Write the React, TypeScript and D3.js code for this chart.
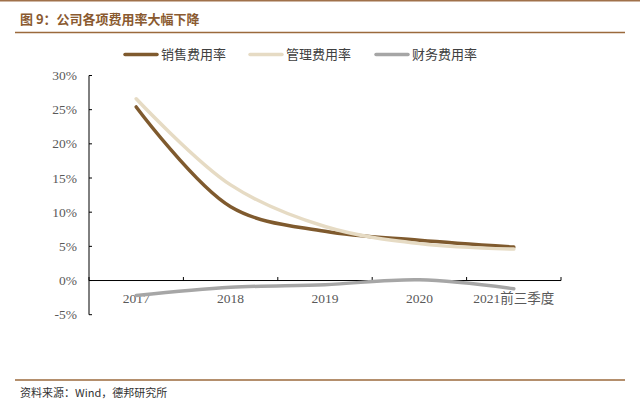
import { useMemo } from 'react';
import * as d3 from 'd3';

const categories = ['2017', '2018', '2019', '2020', '2021前三季度'];
const salesRate = [25.4, 10.8, 7.2, 5.9, 4.9];
const adminRate = [26.6, 14.0, 7.9, 5.4, 4.6];
const financeRate = [-2.2, -1.0, -0.6, 0.1, -1.2];
const yTicks = [-5, 0, 5, 10, 15, 20, 25, 30];

const seriesNames = ['销售费用率', '管理费用率', '财务费用率'];
const seriesColors = ['#7f5a2e', '#e6dbc4', '#a6a6a6'];

const W = 640;
const H = 407;
const CJK = '"Noto Sans CJK SC", sans-serif';
const SERIF = '"Liberation Serif", "Times New Roman", serif';

export default function App() {
  const x = useMemo(() => d3.scaleBand<string>().domain(categories).range([89, 561]), []);
  const y = useMemo(() => d3.scaleLinear().domain([-5, 30]).range([314.7, 75.5]), []);

  const line = d3
    .line<number>()
    .x((_d, i) => (x(categories[i]) ?? 0) + x.bandwidth() / 2)
    .y(d => y(d))
    .curve(d3.curveCatmullRom.alpha(0.5));

  const series = [salesRate, adminRate, financeRate];
  const legendX = [125, 250, 376];
  const boundaries = categories.map(c => x(c) ?? 0).concat([x.range()[1]]);

  return (
    <svg width={W} height={H} style={{ position: 'absolute', left: 0, top: 0, background: '#fff' }}>
      <line x1={0} x2={W} y1={0.8} y2={0.8} stroke="#a0714a" strokeWidth={1.5} />
      <text x={20} y={24} fontFamily={CJK} fontSize={13} fontWeight="bold" fill="#8a5a30">
        图 9：公司各项费用率大幅下降
      </text>
      <line x1={15} x2={625} y1={32.5} y2={32.5} stroke="#9b6a3c" strokeWidth={1.5} />

      {seriesNames.map((name, i) => (
        <g key={name}>
          <line x1={legendX[i]} x2={legendX[i] + 32} y1={54.5} y2={54.5} stroke={seriesColors[i]} strokeWidth={3.5} strokeLinecap="round" />
          <text x={legendX[i] + 36} y={59} fontFamily={CJK} fontSize={13} fill="#404040">
            {name}
          </text>
        </g>
      ))}

      {/* y axis */}
      <line x1={89} x2={89} y1={y(30)} y2={y(-5)} stroke="#000" strokeWidth={1} />
      {yTicks.map(t => (
        <g key={t}>
          <line x1={89} x2={92} y1={y(t)} y2={y(t)} stroke="#000" />
          <text x={77} y={y(t) + 4.5} textAnchor="end" fontFamily={SERIF} fontSize={13.5} fill="#595959">
            {t}%
          </text>
        </g>
      ))}

      {/* x axis */}
      <line x1={89} x2={561} y1={y(0)} y2={y(0)} stroke="#000" strokeWidth={1} />
      {boundaries.map((b, i) => (
        <line key={i} x1={b} x2={b} y1={y(0)} y2={y(0) - 3.5} stroke="#000" />
      ))}
      {categories.map(c => (
        <text
          key={c}
          x={(x(c) ?? 0) + x.bandwidth() / 2}
          y={303}
          textAnchor="middle"
          fontFamily={`"Liberation Serif", "Noto Sans CJK SC", serif`}
          fontSize={13.5}
          fill="#595959"
        >
          {c}
        </text>
      ))}

      {series.map((s, i) => (
        <path key={i} d={line(s) ?? ''} fill="none" stroke={seriesColors[i]} strokeWidth={3.5} strokeLinecap="round" />
      ))}

      <line x1={15} x2={625} y1={380} y2={380} stroke="#9b6a3c" strokeWidth={1.5} />
      <text x={20} y={397} fontFamily={CJK} fontSize={11} fill="#333">
        资料来源：Wind，德邦研究所
      </text>
    </svg>
  );
}
